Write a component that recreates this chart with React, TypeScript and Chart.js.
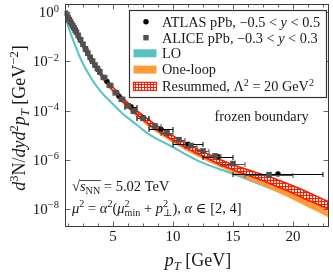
import React, { useEffect, useRef } from 'react';
import { Chart, registerables } from 'chart.js';
Chart.register(...registerables);

const FAMILY = '"Liberation Serif", "DejaVu Serif", serif';

// ALICE pPb, -0.3 < y < 0.3
const alicePt = [1.05, 1.15, 1.25, 1.35, 1.45, 1.55, 1.65, 1.75, 1.85, 1.95, 2.1, 2.3, 2.5, 2.7, 2.9, 3.1, 3.3, 3.5, 3.7, 3.9, 4.25, 4.75, 5.25, 5.75, 6.25, 6.75, 7.5, 8.5, 9.5, 10.5, 11.5, 12.5, 13.5, 15, 18];
const aliceVal = [9.1e-1, 7.4e-1, 6.2e-1, 5.0e-1, 4.2e-1, 3.4e-1, 2.8e-1, 2.3e-1, 1.9e-1, 1.55e-1, 1.15e-1, 7.6e-2, 5.0e-2, 3.3e-2, 2.2e-2, 1.48e-2, 1.02e-2, 7.2e-3, 5.2e-3, 3.8e-3, 2.24e-3, 1.07e-3, 5.4e-4, 2.9e-4, 1.58e-4, 9.5e-5, 5.0e-5, 2.4e-5, 1.26e-5, 6.6e-6, 3.8e-6, 2.3e-6, 1.45e-6, 7.1e-7, 2.5e-7];
const aliceXErr = [0.05, 0.05, 0.05, 0.05, 0.05, 0.05, 0.05, 0.05, 0.05, 0.05, 0.1, 0.1, 0.1, 0.1, 0.1, 0.1, 0.1, 0.1, 0.1, 0.1, 0.25, 0.25, 0.25, 0.25, 0.25, 0.25, 0.5, 0.5, 0.5, 0.5, 0.5, 0.5, 0.5, 1, 2];

// ATLAS pPb, -0.5 < y < 0.5
const atlasPt = [1.1, 1.3, 1.5, 1.7, 1.9, 2.25, 2.75, 3.25, 3.75, 4.5, 5.5, 6.5, 7.5, 9.0, 11.25, 13.75, 18.75];
const atlasVal = [8.1e-1, 5.5e-1, 3.7e-1, 2.5e-1, 1.7e-1, 8.3e-2, 2.95e-2, 1.1e-2, 4.7e-3, 1.55e-3, 3.9e-4, 1.45e-4, 5.2e-5, 1.75e-5, 4.4e-6, 1.35e-6, 2.7e-7];
const atlasXErr = [0, 0, 0, 0, 0, 0, 0, 0, 0, 0, 0, 0.5, 0.5, 1.0, 1.25, 1.25, 3.75];

// LO
const loPt = [1.0, 1.5, 2.35, 3.17, 4.0, 4.83, 5.74, 6.89, 7.97, 9.63, 12.1, 15.0, 18.05, 20.4, 23.0];
const loVal = [6.6e-1, 1.26e-1, 1.15e-2, 2.14e-3, 5.8e-4, 2.24e-4, 8.1e-5, 2.9e-5, 1.12e-5, 4.1e-6, 9.1e-7, 2.7e-7, 7.2e-8, 2.8e-8, 1.15e-8];

// One-loop and resummed bands
const theoryPt = [1, 1.5, 2, 2.5, 3, 3.5, 4, 5, 6, 7, 8, 9, 10, 11, 12, 13, 14, 15, 16, 17, 18, 19, 20, 21, 22, 23];
const oneLoopHigh = [9.3e-1, 3.5e-1, 1.29e-1, 4.9e-2, 1.86e-2, 7.8e-3, 3.5e-3, 8.7e-4, 2.6e-4, 9.5e-5, 4.0e-5, 1.82e-5, 9.1e-6, 4.8e-6, 2.7e-6, 1.58e-6, 9.5e-7, 6.0e-7, 4.0e-7, 2.6e-7, 1.74e-7, 1.12e-7, 7.1e-8, 4.4e-8, 2.6e-8, 1.58e-8];
const oneLoopLow = [7.1e-1, 2.6e-1, 9.3e-2, 3.5e-2, 1.26e-2, 5.4e-3, 2.3e-3, 5.5e-4, 1.58e-4, 5.6e-5, 2.2e-5, 1.02e-5, 5.0e-6, 2.6e-6, 1.45e-6, 8.3e-7, 5.0e-7, 3.0e-7, 1.86e-7, 1.15e-7, 7.1e-8, 4.2e-8, 2.45e-8, 1.41e-8, 8.1e-9, 4.6e-9];
const resumHigh = [9.5e-1, 3.5e-1, 1.32e-1, 5.0e-2, 1.9e-2, 7.9e-3, 3.5e-3, 8.9e-4, 2.7e-4, 1.0e-4, 4.2e-5, 1.9e-5, 9.5e-6, 5.0e-6, 2.8e-6, 1.66e-6, 1.0e-6, 6.3e-7, 4.4e-7, 3.0e-7, 2.1e-7, 1.38e-7, 8.9e-8, 5.5e-8, 3.3e-8, 1.95e-8];
const resumLow = [7.6e-1, 2.75e-1, 1.02e-1, 3.8e-2, 1.41e-2, 5.9e-3, 2.6e-3, 6.5e-4, 1.9e-4, 6.9e-5, 2.8e-5, 1.26e-5, 6.3e-6, 3.3e-6, 1.8e-6, 1.05e-6, 6.2e-7, 4.0e-7, 2.6e-7, 1.74e-7, 1.12e-7, 7.1e-8, 4.4e-8, 2.6e-8, 1.62e-8, 1.0e-8];

const xTickLabels = [5, 10, 15, 20];
const xMinorStep = 1.25;
const yTickExps = [0, -2, -4, -6, -8];
const legendLabels = ['ATLAS pPb', 'ALICE pPb', 'LO', 'One-loop', 'Resummed'];

const C_TEAL = '#56C3C3';
const C_ORANGE = '#FF9B3A';
const C_RED = '#FF1A00';
const C_GRAY = '#505050';
const C_FRAME = '#3a3a3a';

type Seg = { t: string; i?: boolean; s?: 'sup' | 'sub'; k?: boolean };

function drawRich(ctx: CanvasRenderingContext2D, segs: Seg[], x: number, y: number, size: number, align: 'left' | 'center' | 'right' = 'left') {
  const fontOf = (s: Seg) => `${s.i ? 'italic ' : ''}${s.s ? size * 0.7 : size}px ${FAMILY}`;
  let pos = 0;
  let pending = 0;
  const items: { s: Seg; x: number }[] = [];
  for (const s of segs) {
    ctx.font = fontOf(s);
    const w = ctx.measureText(s.t).width;
    items.push({ s, x: pos });
    if (s.k) {
      pending = Math.max(pending, w);
    } else {
      pos += Math.max(w, pending);
      pending = 0;
    }
  }
  const total = pos;
  const x0 = align === 'center' ? x - total / 2 : align === 'right' ? x - total : x;
  ctx.textAlign = 'left';
  ctx.textBaseline = 'alphabetic';
  for (const it of items) {
    ctx.font = fontOf(it.s);
    const dy = it.s.s === 'sup' ? -size * 0.38 : it.s.s === 'sub' ? size * 0.22 : 0;
    ctx.fillText(it.s.t, x0 + it.x, y + dy);
  }
  return { x0, width: total };
}

function makePattern(): CanvasPattern | string {
  const c = document.createElement('canvas');
  c.width = 3;
  c.height = 3;
  const g = c.getContext('2d');
  if (!g) return C_RED;
  g.fillStyle = 'rgba(255,255,255,0.8)';
  g.fillRect(0, 0, 3, 3);
  g.fillStyle = C_RED;
  g.fillRect(0, 0, 3, 1);
  g.fillRect(0, 0, 1, 3);
  const p = g.createPattern(c, 'repeat');
  return p || C_RED;
}

const errorBarPlugin = {
  id: 'errorBars',
  beforeDatasetDraw(chart: any, args: any) {
    const ds = chart.data.datasets[args.index];
    if (!ds.xErr) return;
    const ctx = chart.ctx;
    const xs = chart.scales.x;
    const ys = chart.scales.y;
    ctx.save();
    ctx.strokeStyle = ds.errColor;
    ctx.lineWidth = 1;
    ds.data.forEach((p: any, i: number) => {
      const e = ds.xErr[i];
      if (!e) return;
      const x1 = xs.getPixelForValue(p.x - e);
      const x2 = xs.getPixelForValue(p.x + e);
      const y = Math.round(ys.getPixelForValue(p.y)) + 0.5;
      ctx.beginPath();
      ctx.moveTo(x1, y);
      ctx.lineTo(x2, y);
      ctx.moveTo(x1, y - 2.5);
      ctx.lineTo(x1, y + 2.5);
      ctx.moveTo(x2, y - 2.5);
      ctx.lineTo(x2, y + 2.5);
      ctx.stroke();
    });
    ctx.restore();
  },
};

const decorPlugin = {
  id: 'decor',
  afterDraw(chart: any) {
    const ctx: CanvasRenderingContext2D = chart.ctx;
    const a = chart.chartArea;
    const xs = chart.scales.x;
    const ys = chart.scales.y;
    const L = Math.round(a.left) + 0.5;
    const R = Math.round(a.right) - 0.5;
    const T = Math.round(a.top) + 0.5;
    const B = Math.round(a.bottom) + 0.5;
    ctx.save();
    // ticks
    ctx.strokeStyle = '#666';
    ctx.lineWidth = 1;
    ctx.beginPath();
    for (let v = xMinorStep; v < xs.max; v += xMinorStep) {
      if (v <= xs.min) continue;
      const major = Math.abs(v / 5 - Math.round(v / 5)) < 1e-6;
      const len = major ? 5 : 3;
      const x = Math.round(xs.getPixelForValue(v)) + 0.5;
      ctx.moveTo(x, B);
      ctx.lineTo(x, B - len);
      ctx.moveTo(x, T);
      ctx.lineTo(x, T + len);
    }
    for (const e of yTickExps) {
      const y = Math.round(ys.getPixelForValue(Math.pow(10, e))) + 0.5;
      ctx.moveTo(L, y);
      ctx.lineTo(L + 5, y);
      ctx.moveTo(R, y);
      ctx.lineTo(R - 5, y);
    }
    ctx.stroke();
    // frame
    ctx.strokeStyle = C_FRAME;
    ctx.lineWidth = 1;
    ctx.strokeRect(L, T, R - L, B - T);

    ctx.fillStyle = '#1a1a1a';
    // x tick labels
    ctx.font = `15px ${FAMILY}`;
    ctx.textAlign = 'center';
    ctx.textBaseline = 'alphabetic';
    for (const v of xTickLabels) {
      ctx.fillText(String(v), xs.getPixelForValue(v), 241);
    }
    // y tick labels
    for (const e of yTickExps) {
      const y = ys.getPixelForValue(Math.pow(10, e));
      const exp = e === 0 ? '0' : '\u2212' + String(-e);
      drawRich(ctx, [{ t: '10' }, { t: exp, s: 'sup' }], 59, y + 5, 15, 'right');
    }
    // x title
    drawRich(ctx, [{ t: 'p', i: true }, { t: 'T', i: true, s: 'sub' }, { t: ' [GeV]' }], 198, 266, 18, 'center');
    // y title
    ctx.save();
    ctx.translate(25, 118);
    ctx.rotate(-Math.PI / 2);
    drawRich(ctx, [
      { t: 'd', i: true }, { t: '3', s: 'sup' }, { t: 'N/' }, { t: 'dyd', i: true }, { t: '2', s: 'sup' },
      { t: 'p', i: true }, { t: 'T', i: true, s: 'sub' }, { t: ' [GeV' }, { t: '\u22122', s: 'sup' }, { t: ']' },
    ], 0, 0, 18, 'center');
    ctx.restore();

    // legend box
    const bx = 129.5, by = 10.5, bw = 197, bh = 87;
    ctx.fillStyle = '#ffffff';
    ctx.fillRect(bx, by, bw, bh);
    ctx.strokeStyle = '#333';
    ctx.lineWidth = 1.2;
    ctx.strokeRect(bx, by, bw, bh);
    const rows = [21.7, 37.7, 53.3, 69.6, 86.3];
    // markers
    ctx.fillStyle = '#000';
    ctx.beginPath();
    ctx.arc(146, rows[0], 2.7, 0, Math.PI * 2);
    ctx.fill();
    ctx.fillStyle = C_GRAY;
    ctx.fillRect(143.3, rows[1] - 2.7, 5.4, 5.4);
    ctx.fillStyle = C_TEAL;
    ctx.fillRect(133.5, rows[2] - 4, 23, 8);
    ctx.fillStyle = C_ORANGE;
    ctx.fillRect(133.5, rows[3] - 4, 23, 8);
    ctx.fillStyle = chart.$pattern || C_RED;
    ctx.fillRect(133.5, rows[4] - 4, 23, 8);
    ctx.strokeStyle = C_RED;
    ctx.lineWidth = 1.2;
    ctx.strokeRect(133.5, rows[4] - 4, 23, 8);

    ctx.fillStyle = '#1a1a1a';
    const fs = 14.3;
    const tx = 162;
    drawRich(ctx, [{ t: legendLabels[0] + ', \u22120.5 < ' }, { t: 'y', i: true }, { t: ' < 0.5' }], tx, rows[0] + 4.8, fs);
    drawRich(ctx, [{ t: legendLabels[1] + ', \u22120.3 < ' }, { t: 'y', i: true }, { t: ' < 0.3' }], tx, rows[1] + 4.8, fs);
    drawRich(ctx, [{ t: legendLabels[2] }], tx, rows[2] + 4.8, fs);
    drawRich(ctx, [{ t: legendLabels[3] }], tx, rows[3] + 4.8, fs);
    drawRich(ctx, [{ t: legendLabels[4] + ', \u039B' }, { t: '2', s: 'sup' }, { t: ' = 20 GeV' }, { t: '2', s: 'sup' }], tx, rows[4] + 4.8, fs);

    // annotations
    drawRich(ctx, [{ t: 'frozen boundary' }], 261.5, 120.5, 14.3, 'center');
    const as = 14.5;
    const r1 = drawRich(ctx, [{ t: '\u221A' }], 72, 191, as);
    const r2 = drawRich(ctx, [{ t: 's', i: true }, { t: 'NN', s: 'sub' }], r1.x0 + r1.width, 191, as);
    ctx.strokeStyle = '#1a1a1a';
    ctx.lineWidth = 0.8;
    ctx.beginPath();
    ctx.moveTo(r2.x0 - 0.5, 180.5);
    ctx.lineTo(r2.x0 + r2.width + 0.5, 180.5);
    ctx.stroke();
    drawRich(ctx, [{ t: ' = 5.02 TeV' }], r2.x0 + r2.width, 191, as);
    drawRich(ctx, [
      { t: '\u03BC', i: true }, { t: '2', s: 'sup' }, { t: ' = ' }, { t: '\u03B1', i: true }, { t: '2', s: 'sup' },
      { t: '(' }, { t: '\u03BC', i: true }, { t: '2', s: 'sup', k: true }, { t: 'min', s: 'sub' }, { t: ' + ' },
      { t: 'p', i: true }, { t: '2', s: 'sup', k: true }, { t: '\u22A5', s: 'sub' }, { t: '), ' }, { t: '\u03B1', i: true },
      { t: ' \u2208 [2, 4]' },
    ], 72, 213, as);
    ctx.restore();
  },
};

export default function App() {
  const ref = useRef<HTMLCanvasElement | null>(null);
  useEffect(() => {
    if (!ref.current) return;
    const pattern = makePattern();
    const pts = (xs: number[], ys: number[]) => xs.map((x, i) => ({ x, y: ys[i] }));
    const chart = new Chart(ref.current, {
      type: 'scatter',
      data: {
        datasets: [
          {
            label: 'ALICE', data: pts(alicePt, aliceVal), pointStyle: 'rect', pointRadius: 4,
            backgroundColor: C_GRAY, borderColor: C_GRAY, borderWidth: 0, showLine: false, order: 10,
            xErr: aliceXErr, errColor: C_GRAY,
          } as any,
          {
            label: 'ATLAS', data: pts(atlasPt, atlasVal), pointStyle: 'circle', pointRadius: 2.7,
            backgroundColor: '#000', borderColor: '#000', borderWidth: 0, showLine: false, order: 20,
            xErr: atlasXErr, errColor: '#000',
          } as any,
          {
            label: 'ResumHigh', data: pts(theoryPt, resumHigh), showLine: true, pointRadius: 0,
            borderColor: C_RED, borderWidth: 1.6, fill: false, order: 30, cubicInterpolationMode: 'monotone',
          } as any,
          {
            label: 'ResumLow', data: pts(theoryPt, resumLow), showLine: true, pointRadius: 0,
            borderColor: C_RED, borderWidth: 1.6, fill: '-1', backgroundColor: pattern, order: 30,
            cubicInterpolationMode: 'monotone',
          } as any,
          {
            label: 'OneLoopHigh', data: pts(theoryPt, oneLoopHigh), showLine: true, pointRadius: 0,
            borderColor: C_ORANGE, borderWidth: 0.5, fill: false, order: 40, cubicInterpolationMode: 'monotone',
          } as any,
          {
            label: 'OneLoopLow', data: pts(theoryPt, oneLoopLow), showLine: true, pointRadius: 0,
            borderColor: C_ORANGE, borderWidth: 0.5, fill: '-1', backgroundColor: C_ORANGE, order: 40,
            cubicInterpolationMode: 'monotone',
          } as any,
          {
            label: 'LO', data: pts(loPt, loVal), showLine: true, pointRadius: 0,
            borderColor: C_TEAL, borderWidth: 2, fill: false, order: 50, cubicInterpolationMode: 'monotone',
          } as any,
        ],
      },
      options: {
        animation: false,
        responsive: true,
        maintainAspectRatio: false,
        events: [],
        layout: { padding: { left: 65, right: 0.5, top: 4, bottom: 50 } },
        plugins: { legend: { display: false }, tooltip: { enabled: false } },
        scales: {
          x: { type: 'linear', min: 1, max: 23, display: false },
          y: { type: 'logarithmic', min: 2.06e-9, max: 2.17, display: false },
        },
      },
      plugins: [errorBarPlugin, decorPlugin],
    } as any);
    (chart as any).$pattern = pattern;
    chart.draw();
    return () => chart.destroy();
  }, []);
  return (
    <div style={{ position: 'fixed', left: 0, top: 0, width: 333, height: 276, background: '#fff' }}>
      <canvas ref={ref} />
    </div>
  );
}
